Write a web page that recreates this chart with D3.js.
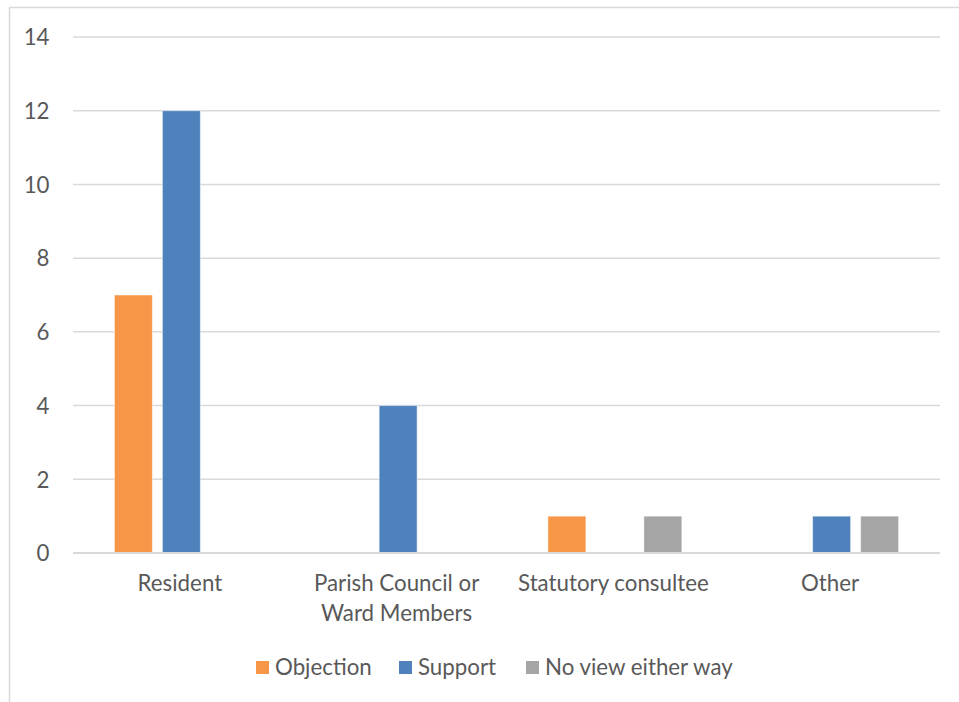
<!DOCTYPE html>
<html><head><meta charset="utf-8">
<script src="https://cdn.jsdelivr.net/npm/d3@7"></script>
<style>
html,body{margin:0;padding:0;background:#fff;}
svg{display:block;}
text{font-family:Lato, "Open Sans", sans-serif;fill:#595959;}
</style></head>
<body>
<svg id="chart" width="959" height="702"></svg>
<script>
const categories = [["Resident"], ["Parish Council or", "Ward Members"], ["Statutory consultee"], ["Other"]];
const seriesNames = ["Objection", "Support", "No view either way"];
const seriesColors = ["#F79646", "#4F81BD", "#A5A5A5"];
const objection = [7, 0, 1, 0];
const support = [12, 4, 0, 1];
const noView = [0, 0, 1, 1];
const yTicks = [0, 2, 4, 6, 8, 10, 12, 14];

(function () {
const seriesValues = [objection, support, noView];
const svg = d3.select("#chart");
const fs = "22.3px";

// outer border
svg.append("rect").attr("x", 9.5).attr("y", 7.5).attr("width", 980).attr("height", 720)
  .attr("fill", "none").attr("stroke", "#D9D9D9").attr("stroke-width", 1.5);

const pLeft = 73, pRight = 940, pTop = 37, pBottom = 553;
const catKeys = categories.map((c, i) => i);
const x0 = d3.scaleBand().domain(catKeys).range([pLeft, pRight]).padding(0);
const x1 = d3.scaleBand().domain(seriesNames).range([41.4, x0.bandwidth() - 41.4]).paddingInner(0.2083).paddingOuter(0);
const y = d3.scaleLinear().domain([0, 14]).range([pBottom, pTop]);

// gridlines
svg.append("g").selectAll("line").data(yTicks.filter(t => t > 0)).join("line")
  .attr("x1", pLeft).attr("x2", pRight)
  .attr("y1", d => y(d)).attr("y2", d => y(d))
  .attr("stroke", "#D9D9D9").attr("stroke-width", 1.5);

// y axis labels
const yAxis = d3.axisLeft(y).tickValues(yTicks).tickSize(0).tickPadding(0);
const yg = svg.append("g").attr("transform", `translate(49.5,0)`).call(yAxis);
yg.select(".domain").remove();
yg.selectAll("text").style("font-size", fs).attr("fill", "#595959")
  .style("font-family", "Lato, sans-serif").attr("dy", "0.35em");

// bars
const data = [];
catKeys.forEach(ci => seriesNames.forEach((s, si) => {
  if (seriesValues[si][ci] > 0) data.push({ci, s, si, v: seriesValues[si][ci]});
}));
svg.append("g").selectAll("rect").data(data).join("rect")
  .attr("x", d => x0(d.ci) + x1(d.s))
  .attr("width", x1.bandwidth())
  .attr("y", d => y(d.v))
  .attr("height", d => y(0) - y(d.v))
  .attr("fill", d => seriesColors[d.si])
  .attr("stroke", "#fff").attr("stroke-opacity", 0.5).attr("stroke-width", 1);

// baseline
svg.append("line").attr("x1", pLeft).attr("x2", pRight).attr("y1", y(0)).attr("y2", y(0))
  .attr("stroke", "#D9D9D9").attr("stroke-width", 2);

// x labels
const xl = svg.append("g");
categories.forEach((lines, ci) => {
  const cx = x0(ci) + x0.bandwidth() / 2 - 1.5;
  const t = xl.append("text").attr("x", cx).attr("y", 591)
    .attr("text-anchor", "middle").style("font-size", fs);
  lines.forEach((ln, li) => t.append("tspan").attr("x", cx)
    .attr("dy", li === 0 ? 0 : 30).text(ln));
});

// legend
const legendX = [256, 399, 526];
const lg = svg.append("g");
seriesNames.forEach((s, i) => {
  lg.append("rect").attr("x", legendX[i]).attr("y", 661).attr("width", 13).attr("height", 13).attr("fill", seriesColors[i]);
  lg.append("text").attr("x", legendX[i] + 19).attr("y", 675).style("font-size", fs).text(s);
});
})();
</script>
</body></html>
